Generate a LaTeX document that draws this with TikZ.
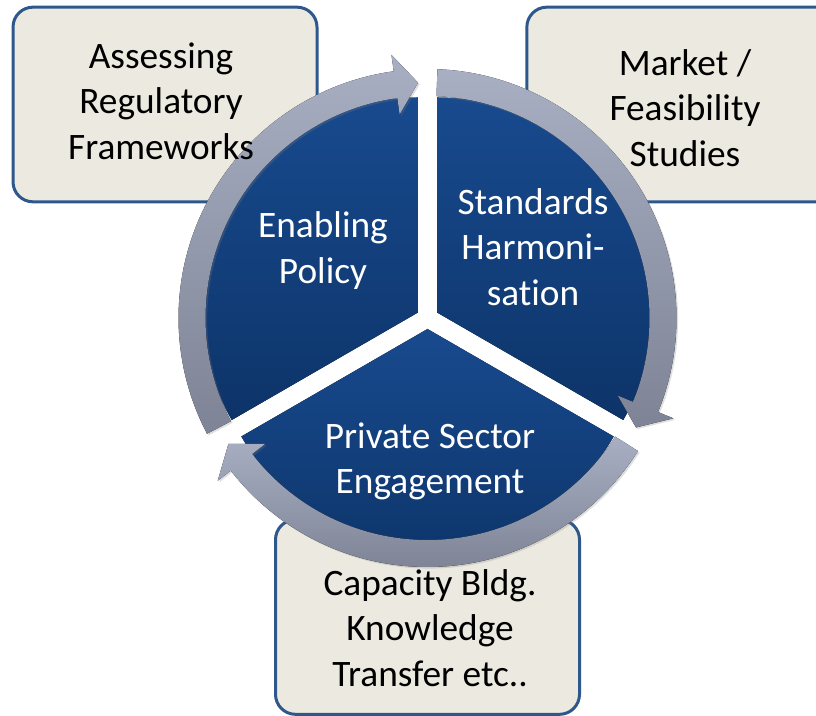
\documentclass[tikz,border=0pt]{standalone}
\usepackage{fontspec}
\setmainfont{Carlito}[Ligatures=NoCommon]
\usetikzlibrary{shadows}
\definecolor{boxFill}{RGB}{236,234,224}
\definecolor{boxLine}{RGB}{46,88,140}
\definecolor{secTop}{RGB}{24,74,142}
\definecolor{secBot}{RGB}{13,52,105}
\definecolor{ringTop}{RGB}{168,175,194}
\definecolor{ringBot}{RGB}{126,132,150}
\begin{document}
\begin{tikzpicture}[x=0.75pt, y=0.75pt, font=\fontsize{28}{34}\selectfont]
%% one unit is one pixel of the 816 x 716 picture, origin bottom left
%% the ring centre sits at C, the three pie parts are pushed out by 11 units
\tikzstyle{box}=[draw=boxLine, fill=boxFill, line width=2.25pt, rounded corners=15pt, minimum width=228pt, minimum height=146pt]
\tikzstyle{boxlabel}=[align=center, text=black, inner sep=0pt]
\tikzstyle{sector}=[top color=secTop, bottom color=secBot]
\tikzstyle{seclabel}=[align=center, text=white, inner sep=0pt]
\tikzstyle{ring}=[top color=ringTop, bottom color=ringBot, drop shadow={shadow xshift=1.2pt, shadow yshift=-1.2pt, opacity=0.25}]
\clip (0,0) rectangle (816,716);
\coordinate (C) at (427.5,398);
%% TikZ-figure elements %%
\node[box] at (165,611.5) (Assess) {};
\node[box, minimum width=235pt] at (683.5,611.5) (Market) {};
\node[box] at (427.5,99) (Capacity) {};
%% pie parts
\fill[sector] (417.97,403.5) coordinate (EnablingTip) -- ++(90:215) arc[start angle=90, end angle=210, radius=215] -- cycle;
\fill[sector] (437.03,403.5) coordinate (StandardsTip) -- ++(-30:215) arc[start angle=-30, end angle=90, radius=215] -- cycle;
\fill[sector] (427.5,387) coordinate (PrivateTip) -- ++(210:215) arc[start angle=210, end angle=330, radius=215] -- cycle;
%% ring arrows, clockwise
\fill[ring, shift={(C)}] (207.7:249) arc[start angle=207.7, end angle=97.8, radius=249] -- (97.8:265.5) -- (92.3:235.5) -- (97.8:205.5) -- (97.8:222) arc[start angle=97.8, end angle=207.7, radius=222] -- cycle;
\fill[ring, shift={(C)}] (87.7:249) arc[start angle=87.7, end angle=-22.2, radius=249] -- (-22.2:265.5) -- (-27.7:235.5) -- (-22.2:205.5) -- (-22.2:222) arc[start angle=-22.2, end angle=87.7, radius=222] -- cycle;
\fill[ring, shift={(C)}] (-32.3:249) arc[start angle=-32.3, end angle=-142.2, radius=249] -- (-142.2:265.5) -- (-147.7:235.5) -- (-142.2:205.5) -- (-142.2:222) arc[start angle=-142.2, end angle=-32.3, radius=222] -- cycle;
%% label for pie part Enabling
\node[seclabel] at (323,465.5) (EnablingLabel) {Enabling\\Policy};
%% label for pie part Standards
\node[seclabel] at (533,469) (StandardsLabel) {Standards\\Harmoni-\\sation};
%% label for pie part Private
\node[seclabel] at (430,254.5) (PrivateLabel) {Private Sector\\Engagement};
%% labels for the boxes, drawn last as they lie over the ring
\node[boxlabel] at (161,615) (AssessLabel) {Assessing\\Regulatory\\Frameworks};
\node[boxlabel] at (685,608) (MarketLabel) {Market /\\Feasibility\\Studies};
\node[boxlabel] at (430,88) (CapacityLabel) {Capacity Bldg.\\Knowledge\\Transfer etc..};
\end{tikzpicture}
\end{document}
